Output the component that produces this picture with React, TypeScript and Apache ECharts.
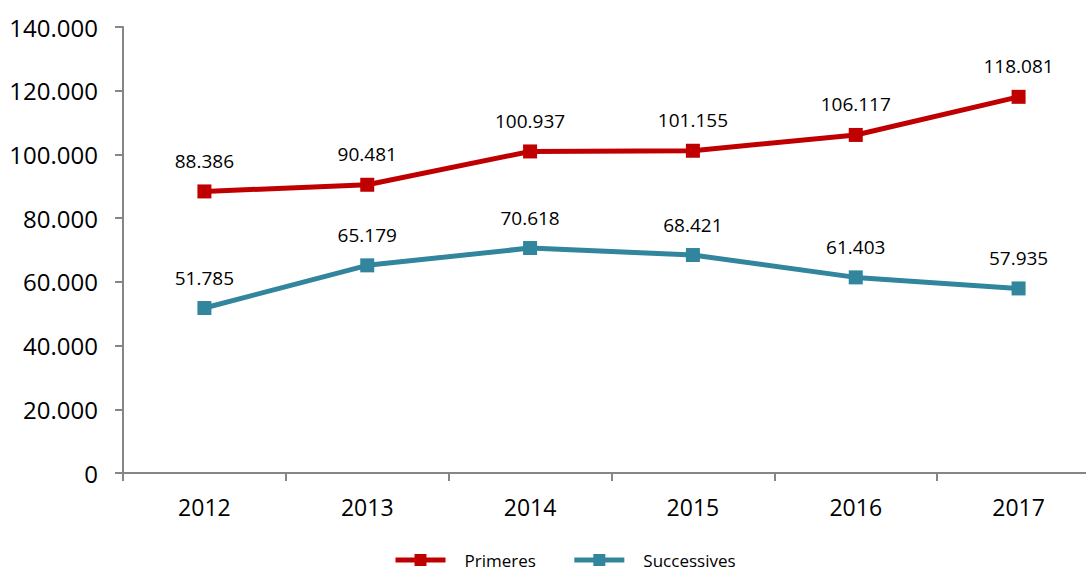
import React, { useEffect, useRef } from "react";
import * as echarts from "echarts";

const years = ["2012", "2013", "2014", "2015", "2016", "2017"];
const primeres = [88386, 90481, 100937, 101155, 106117, 118081];
const successives = [51785, 65179, 70618, 68421, 61403, 57935];
const seriesNames = ["Primeres", "Successives"];

const fmt = (v: number) => {
  if (v === 0) return "0";
  const s = Math.round(v).toString();
  return s.replace(/\B(?=(\d{3})+(?!\d))/g, ".");
};

const FONT = "'Open Sans', 'Noto Sans', sans-serif";

export default function App() {
  const ref = useRef<HTMLDivElement>(null);
  useEffect(() => {
    document.body.style.margin = "0";
    const chart = echarts.init(ref.current!, null, { renderer: "svg" });
    const mkSeries = (name: string, data: number[], color: string) => ({
      name,
      type: "line",
      data,
      symbol: "rect",
      symbolSize: 14,
      lineStyle: { width: 5, color },
      itemStyle: { color },
      label: {
        show: true,
        position: "top",
        distance: 14,
        color: "#000",
        fontFamily: FONT,
        fontSize: 19,
        formatter: (p: any) => fmt(p.value),
      },
    });
    chart.setOption({
      animation: false,
      textStyle: { fontFamily: FONT },
      grid: { left: 123, width: 977, top: 27, bottom: 99, outerBoundsMode: "none", containLabel: false },
      xAxis: {
        type: "category",
        data: years,
        boundaryGap: true,
        axisLine: { lineStyle: { color: "#868686", width: 2 } },
        axisTick: { show: true, length: 8, inside: false, lineStyle: { color: "#868686", width: 2 } },
        axisLabel: { color: "#000", fontSize: 23, fontFamily: FONT, margin: 22 },
      },
      yAxis: {
        type: "value",
        min: 0,
        max: 140000,
        interval: 20000,
        axisLine: { show: true, lineStyle: { color: "#868686", width: 2 } },
        axisTick: { show: true, length: 8, lineStyle: { color: "#868686", width: 2 } },
        splitLine: { show: false },
        axisLabel: { color: "#000", fontSize: 24, fontFamily: FONT, margin: 25, formatter: fmt },
      },
      legend: {
        bottom: 1,
        left: 393,
        padding: 0,
        itemWidth: 50,
        itemHeight: 15,
        itemGap: 36,
        data: seriesNames,
        lineStyle: { width: 5 },
        textStyle: { color: "#000", fontSize: 17, lineHeight: 22, fontFamily: FONT, padding: [0, 0, 0, 14] },
      },
      series: [
        mkSeries(seriesNames[0], primeres, "#C00000"),
        mkSeries(seriesNames[1], successives, "#31859C"),
      ],
    });
    return () => chart.dispose();
  }, []);
  return <div ref={ref} style={{ width: 1086, height: 572 }} />;
}
